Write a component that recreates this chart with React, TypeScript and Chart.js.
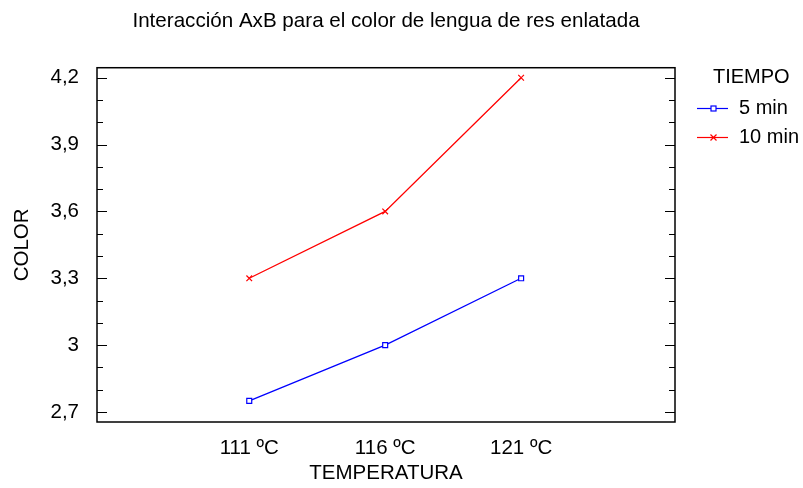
import React, { useEffect, useRef } from 'react';
import { Chart, registerables } from 'chart.js';

Chart.register(...registerables);

const TITLE = 'Interacción AxB para el color de lengua de res enlatada';
const X_TITLE = 'TEMPERATURA';
const Y_TITLE = 'COLOR';
const LEGEND_TITLE = 'TIEMPO';

const categories = ['111 ºC', '116 ºC', '121 ºC'];
const temperatures = [111, 116, 121];
const seriesNames = ['5 min', '10 min'];
const values5min = [2.75, 3.0, 3.3];
const values10min = [3.3, 3.6, 4.2];

const yMajorTicks = [2.7, 3.0, 3.3, 3.6, 3.9, 4.2];
const yTickLabels = ['2,7', '3', '3,3', '3,6', '3,9', '4,2'];
const yMinorTicks = [2.8, 2.9, 3.1, 3.2, 3.4, 3.5, 3.7, 3.8, 4.0, 4.1];

const FONT_FAMILY = '"Liberation Sans", Arial, sans-serif';
const BLUE = 'rgb(0,0,255)';
const RED = 'rgb(255,0,0)';

const framePlugin = {
  id: 'frame',
  afterDatasetsDraw(chart: any) {
    const { ctx, chartArea } = chart;
    const { left, top, right, bottom } = chartArea;
    const y = chart.scales.y;
    ctx.save();
    ctx.strokeStyle = '#000';
    ctx.lineWidth = 1.5;
    ctx.strokeRect(left, top, right - left, bottom - top);
    ctx.lineWidth = 1;
    const tick = (v: number, len: number) => {
      const py = Math.round(y.getPixelForValue(v)) + 0.5;
      ctx.beginPath();
      ctx.moveTo(left, py);
      ctx.lineTo(left + len, py);
      ctx.moveTo(right, py);
      ctx.lineTo(right - len, py);
      ctx.stroke();
    };
    yMajorTicks.forEach((v) => tick(v, 10));
    yMinorTicks.forEach((v) => tick(v, 6));
    ctx.restore();
  },
};

const legendPlugin = {
  id: 'customLegend',
  afterDraw(chart: any) {
    const { ctx, chartArea } = chart;
    const { right, top } = chartArea;
    ctx.save();
    ctx.font = `20px ${FONT_FAMILY}`;
    ctx.fillStyle = '#000';
    ctx.textBaseline = 'middle';
    ctx.textAlign = 'left';
    ctx.fillText(LEGEND_TITLE, right + 38, top + 10);
    const colors = [BLUE, RED];
    seriesNames.forEach((name, i) => {
      const cy = Math.round(top + 40 + i * 29) + 0.5;
      const x0 = right + 22;
      const x1 = right + 53;
      const mx = Math.round((x0 + x1) / 2) + 0.5;
      ctx.strokeStyle = colors[i];
      ctx.lineWidth = 1.2;
      ctx.beginPath();
      ctx.moveTo(x0, cy);
      ctx.lineTo(x1, cy);
      ctx.stroke();
      if (i === 0) {
        ctx.fillStyle = '#fff';
        ctx.fillRect(mx - 2.5, cy - 2.5, 5, 5);
        ctx.strokeRect(mx - 2.5, cy - 2.5, 5, 5);
      } else {
        ctx.beginPath();
        ctx.moveTo(mx - 3, cy - 3);
        ctx.lineTo(mx + 3, cy + 3);
        ctx.moveTo(mx - 3, cy + 3);
        ctx.lineTo(mx + 3, cy - 3);
        ctx.stroke();
      }
      ctx.fillStyle = '#000';
      ctx.fillText(name, right + 64, cy);
    });
    ctx.restore();
  },
};

export default function App() {
  const canvasRef = useRef<HTMLCanvasElement | null>(null);

  useEffect(() => {
    document.body.style.margin = '0';
    const canvas = canvasRef.current;
    if (!canvas) return;
    const font = { family: FONT_FAMILY, size: 20.5, weight: 'normal' as const };
    const chart = new Chart(canvas, {
      type: 'line',
      data: {
        datasets: [
          {
            label: seriesNames[0],
            data: temperatures.map((t, i) => ({ x: t, y: values5min[i] })),
            borderColor: BLUE,
            borderWidth: 1.3,
            pointStyle: 'rect',
            pointRadius: 3.5,
            pointBorderWidth: 1.2,
            pointBorderColor: BLUE,
            pointBackgroundColor: '#fff',
            tension: 0,
          },
          {
            label: seriesNames[1],
            data: temperatures.map((t, i) => ({ x: t, y: values10min[i] })),
            borderColor: RED,
            borderWidth: 1.3,
            pointStyle: 'crossRot',
            pointRadius: 4,
            pointBorderWidth: 1.2,
            pointBorderColor: RED,
            pointBackgroundColor: RED,
            tension: 0,
          },
        ],
      },
      options: {
        animation: false,
        responsive: false,
        devicePixelRatio: 1,
        layout: { padding: { left: 0, right: 128, top: 0, bottom: 0 }, autoPadding: false },
        plugins: {
          legend: { display: false },
          tooltip: { enabled: false },
          title: {
            display: true,
            text: TITLE,
            fullSize: false,
            color: '#000',
            font: { family: FONT_FAMILY, size: 20.6, weight: 'normal' },
            padding: { top: 9, bottom: 34 },
          },
        },
        scales: {
          x: {
            type: 'linear',
            min: 105.4,
            max: 126.66,
            grid: { display: false },
            border: { display: false },
            afterBuildTicks: (s: any) => {
              s.ticks = temperatures.map((v) => ({ value: v }));
            },
            afterFit: (s: any) => {
              s.height = 66;
            },
            ticks: {
              callback: (v: any) => {
                const i = temperatures.indexOf(Number(v));
                return i >= 0 ? categories[i] : '';
              },
              font,
              color: '#000',
              padding: 6,
              maxRotation: 0,
              autoSkip: false,
            },
            title: {
              display: true,
              text: X_TITLE,
              color: '#000',
              font,
              padding: { top: 0, bottom: 2 },
            },
          },
          y: {
            type: 'linear',
            min: 2.655,
            max: 4.245,
            grid: { display: false },
            border: { display: false },
            afterBuildTicks: (s: any) => {
              s.ticks = yMajorTicks.map((v) => ({ value: v }));
            },
            afterFit: (s: any) => {
              s.width = 97;
            },
            ticks: {
              callback: (v: any) => {
                const i = yMajorTicks.findIndex((m) => Math.abs(m - Number(v)) < 1e-6);
                return i >= 0 ? yTickLabels[i] : '';
              },
              font,
              color: '#000',
              padding: 10,
              autoSkip: false,
            },
            title: {
              display: true,
              text: Y_TITLE,
              color: '#000',
              font,
              padding: { top: 10, bottom: 0 },
            },
          },
        },
      },
      plugins: [framePlugin, legendPlugin],
    } as any);
    return () => chart.destroy();
  }, []);

  return (
    <div style={{ position: 'absolute', left: 0, top: 0, width: 803, height: 488, background: '#fff' }}>
      <canvas ref={canvasRef} width={803} height={488} style={{ display: 'block' }} />
    </div>
  );
}
